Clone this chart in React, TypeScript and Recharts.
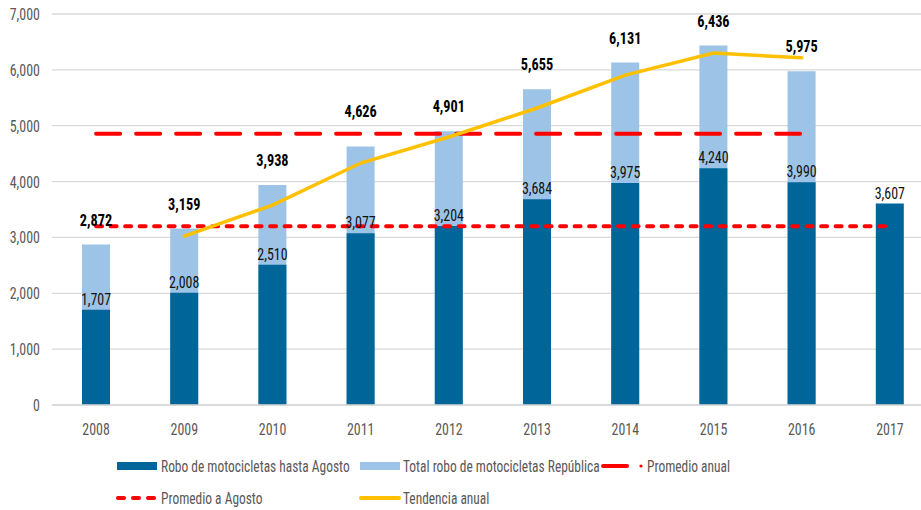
import React from "react";
import { ComposedChart, Bar, Line, XAxis, YAxis, CartesianGrid, LabelList } from "recharts";

const years = ["2008", "2009", "2010", "2011", "2012", "2013", "2014", "2015", "2016", "2017"];
const hastaAgosto = [1707, 2008, 2510, 3077, 3204, 3684, 3975, 4240, 3990, 3607];
const totalRepublica: (number | null)[] = [2872, 3159, 3938, 4626, 4901, 5655, 6131, 6436, 5975, null];
const promedioAnual: (number | null)[] = [4855, 4855, 4855, 4855, 4855, 4855, 4855, 4855, 4855, null];
const promedioAgosto = [3200, 3200, 3200, 3200, 3200, 3200, 3200, 3200, 3200, 3200];
const tendencia: (number | null)[] = [null, 3025, 3580, 4332, 4798, 5317, 5905, 6300, 6215, null];
const yTicks = [0, 1000, 2000, 3000, 4000, 5000, 6000, 7000];

const data = years.map((y, i) => ({
  year: y,
  agosto: hastaAgosto[i],
  total: totalRepublica[i],
  pAnual: promedioAnual[i],
  pAgosto: promedioAgosto[i],
  tend: tendencia[i],
}));

const FONT = "'Liberation Sans Narrow', 'Roboto Condensed', 'DejaVu Sans Condensed', 'Liberation Sans', sans-serif";
const DARK = "#006699";
const LIGHT = "#9DC3E6";
const RED = "#FF0000";
const YELLOW = "#FFC000";
const SX = 0.82;

const fmt = (v: number) => v.toLocaleString("en-US");

const TotalLabel = (props: any) => {
  const { x, y, width, value, index } = props;
  if (value == null) return null;
  // 2011 label is lifted above the dashed average line, as in the original
  const off = index === 3 ? 30 : 19;
  return (
    <text transform={`translate(${x + width / 2},${y - off}) scale(0.84,1)`} textAnchor="middle" fontFamily={FONT} fontSize={17} fontWeight="bold" fill="#000">
      {fmt(value)}
    </text>
  );
};

const AgostoLabel = (props: any) => {
  const { x, y, width, value } = props;
  return (
    <text transform={`translate(${x + width / 2},${y - 5}) scale(${SX},1)`} textAnchor="middle" fontFamily={FONT} fontSize={17} fill="#111">
      {fmt(value)}
    </text>
  );
};

const XTick = (props: any) => {
  const { x, y, payload } = props;
  return (
    <text transform={`translate(${x},${y + 22}) scale(${SX},1)`} textAnchor="middle" fontFamily={FONT} fontSize={17} fill="#595959">
      {payload.value}
    </text>
  );
};

const YTick = (props: any) => {
  const { x, y, payload } = props;
  return (
    <text transform={`translate(${x - 4},${y + 6}) scale(${SX},1)`} textAnchor="end" fontFamily={FONT} fontSize={17} fill="#595959">
      {fmt(payload.value)}
    </text>
  );
};

const legendText: React.CSSProperties = {
  fontFamily: FONT,
  fontSize: 17,
  color: "#595959",
  whiteSpace: "nowrap",
  position: "absolute",
  transform: "scaleX(0.79)",
  transformOrigin: "0 50%",
  lineHeight: "20px",
};

const box = (left: number, top: number, w: number, h: number): React.CSSProperties => ({
  position: "absolute",
  left,
  top,
  width: w,
  height: h,
});

export default function App() {
  return (
    <div style={{ position: "fixed", left: 0, top: 0, width: 921, height: 510, overflow: "hidden", background: "#fff" }}>
      <ComposedChart width={934} height={510} data={data} margin={{ top: 14, right: 0, left: 0, bottom: 75 }} barGap={-28}>
        <CartesianGrid vertical={false} stroke="#d9d9d9" strokeWidth={1.3} />
        <XAxis
          dataKey="year"
          tickLine={false}
          axisLine={{ stroke: "#d9d9d9", strokeWidth: 1.3 }}
          tick={XTick}
          height={30}
        />
        <YAxis
          width={52}
          domain={[0, 7000]}
          ticks={yTicks}
          tickLine={false}
          axisLine={false}
          tick={YTick}
        />
        <Bar dataKey="total" fill={LIGHT} barSize={28} isAnimationActive={false}>
          <LabelList dataKey="total" content={TotalLabel} />
        </Bar>
        <Bar dataKey="agosto" fill={DARK} barSize={28} isAnimationActive={false}>
          <LabelList dataKey="agosto" content={AgostoLabel} />
        </Bar>
        <Line dataKey="pAnual" stroke={RED} strokeWidth={4} strokeDasharray="24 16" strokeLinecap="round" dot={false} activeDot={false} isAnimationActive={false} />
        <Line dataKey="pAgosto" stroke={RED} strokeWidth={4} strokeDasharray="6 8.5" strokeLinecap="round" dot={false} activeDot={false} isAnimationActive={false} />
        <Line dataKey="tend" stroke={YELLOW} strokeWidth={3.5} dot={false} activeDot={false} isAnimationActive={false} strokeLinecap="round" />
      </ComposedChart>

      <div style={{ ...box(117, 462, 40, 8), background: DARK }} />
      <div style={{ ...legendText, left: 161, top: 456 }}>Robo de motocicletas hasta Agosto</div>

      <div style={{ ...box(360, 462, 40, 8), background: LIGHT }} />
      <div style={{ ...legendText, left: 403, top: 456 }}>Total robo de motocicletas República</div>

      <svg style={box(600, 461, 46, 10)} width={46} height={10}>
        <line x1={3} y1={5} x2={27} y2={5} stroke={RED} strokeWidth={4} strokeLinecap="round" />
        <circle cx={41} cy={5} r={1.6} fill={RED} />
      </svg>
      <div style={{ ...legendText, left: 647, top: 456 }}>Promedio anual</div>

      <svg style={box(115, 493, 44, 10)} width={44} height={10}>
        <line x1={3} y1={5} x2={40} y2={5} stroke={RED} strokeWidth={4} strokeDasharray="6 9" strokeLinecap="round" />
      </svg>
      <div style={{ ...legendText, left: 161, top: 488 }}>Promedio a Agosto</div>

      <svg style={box(358, 493, 44, 10)} width={44} height={10}>
        <line x1={3} y1={5} x2={41} y2={5} stroke={YELLOW} strokeWidth={4} strokeLinecap="round" />
      </svg>
      <div style={{ ...legendText, left: 403, top: 488 }}>Tendencia anual</div>
    </div>
  );
}
